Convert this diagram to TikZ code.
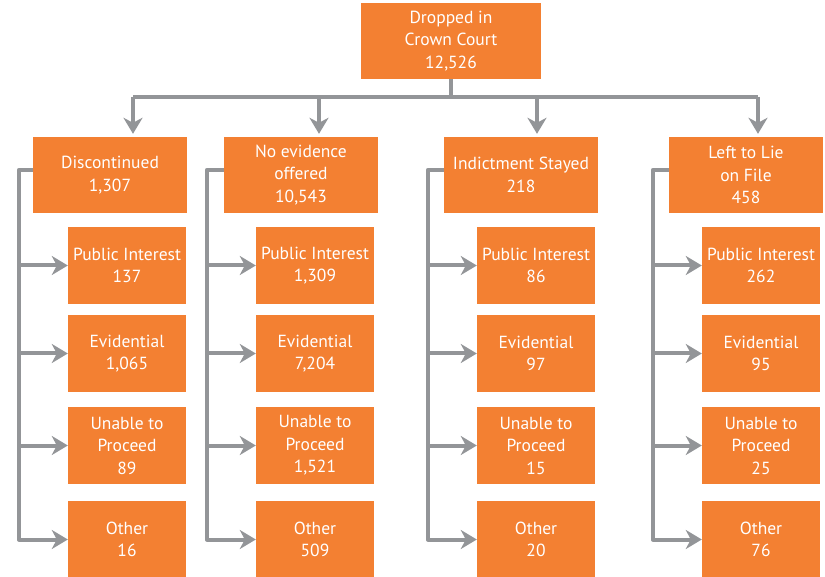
\documentclass[tikz,border=0pt]{standalone}
\usepackage{fontspec}
\setmainfont{PT Sans}
\usetikzlibrary{arrows.meta}
\definecolor{boxorange}{RGB}{243,128,50}
\definecolor{linegray}{RGB}{147,149,152}

\begin{document}
\begin{tikzpicture}[x=1pt,y=-1pt,
  box/.style={fill=boxorange,text=white,align=center,inner sep=0pt,font=\fontsize{17.5}{22.5}\selectfont},
  head/.style={box,minimum width=154pt,minimum height=76pt},
  leaf/.style={box,minimum width=118pt,minimum height=77pt},
  link/.style={draw=linegray,line width=4pt,line join=round},
  arrow/.style={link,-{Stealth[length=16pt,width=19pt,inset=5pt]}}]
\useasboundingbox (0,0) rectangle (825,577);

% Boîtes
\node[box,minimum width=180pt,minimum height=76pt] (top) at (451,41) {Dropped in\\Crown Court\\12,526};
\node[head] (d) at (110,175) {Discontinued\\1,307};
\node[head] (n) at (301,175) {No evidence\\offered\\10,543};
\node[head] (i) at (521,175) {Indictment Stayed\\218};
\node[head] (l) at (746,175) {Left to Lie\\on File\\458};

\node[leaf] (d1) at (127,265.5) {Public Interest\\137};
\node[leaf] (d2) at (127,353.5) {Evidential\\1,065};
\node[leaf] (d3) at (127,445.5) {Unable to\\Proceed\\89};
\node[leaf] (d4) at (127,539.5) {Other\\16};

\node[leaf] (n1) at (315,265.5) {Public Interest\\1,309};
\node[leaf] (n2) at (315,353.5) {Evidential\\7,204};
\node[leaf] (n3) at (315,445.5) {Unable to\\Proceed\\1,521};
\node[leaf] (n4) at (315,539.5) {Other\\509};

\node[leaf] (i1) at (536,265.5) {Public Interest\\86};
\node[leaf] (i2) at (536,353.5) {Evidential\\97};
\node[leaf] (i3) at (536,445.5) {Unable to\\Proceed\\15};
\node[leaf] (i4) at (536,539.5) {Other\\20};

\node[leaf] (l1) at (761,265.5) {Public Interest\\262};
\node[leaf] (l2) at (761,353.5) {Evidential\\95};
\node[leaf] (l3) at (761,445.5) {Unable to\\Proceed\\25};
\node[leaf] (l4) at (761,539.5) {Other\\76};

% Flèches du haut
\coordinate (k1) at (133,97);
\coordinate (k2) at (319,97);
\coordinate (k3) at (537,97);
\coordinate (k4) at (758,97);
\draw[link] (top.south) -- (top.south |- k1);
\draw[link] (k1) -- (k4);
\draw[arrow,shorten >=3pt] (k1) -- (k1 |- d.north);
\draw[arrow,shorten >=3pt] (k2) -- (k2 |- n.north);
\draw[arrow,shorten >=3pt] (k3) -- (k3 |- i.north);
\draw[arrow,shorten >=3pt] (k4) -- (k4 |- l.north);

% Flèches des colonnes
\foreach \c in {d,n,i,l}{
  \coordinate (\c s) at ([xshift=-49pt]\c1.west);
  \draw[arrow] ([yshift=5pt]\c.west) -- ([yshift=5pt]\c.west -| \c s) |- (\c4.west);
  \foreach \k in {1,2,3}
    \draw[arrow] (\c s |- \c\k.west) -- (\c\k.west);
}
\end{tikzpicture}
\end{document}
